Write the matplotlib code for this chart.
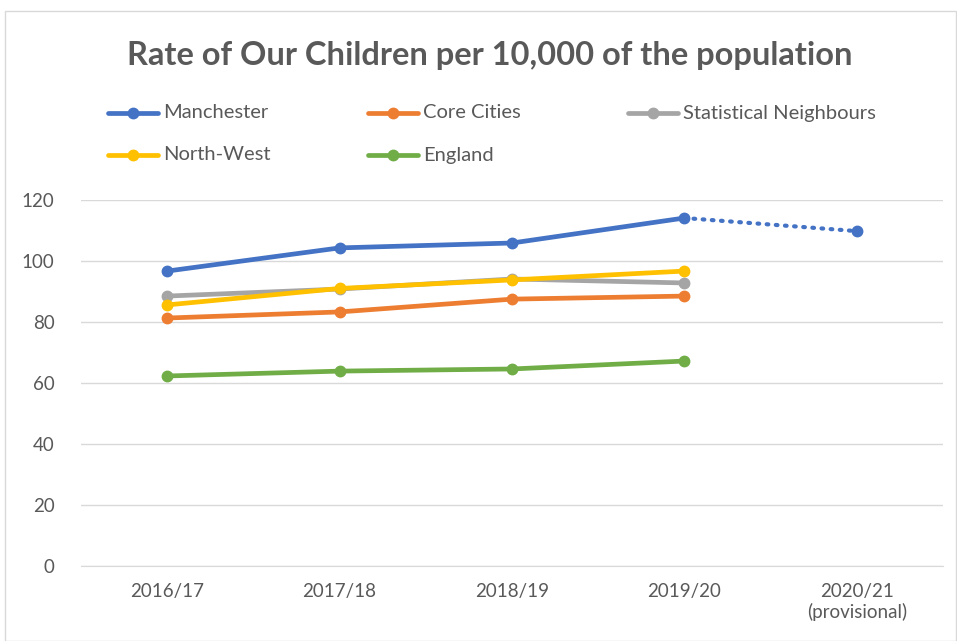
import matplotlib
matplotlib.use("Agg")
import matplotlib.pyplot as plt
from matplotlib.patches import Rectangle
from matplotlib.lines import Line2D

plt.rcParams['font.family'] = ['Lato', 'DejaVu Sans']

categories = ["2016/17", "2017/18", "2018/19", "2019/20", "2020/21\n(provisional)"]
manchester = [96.7, 104.3, 105.9, 114.1]
manchester_provisional = 109.8
core_cities = [81.3, 83.3, 87.5, 88.5]
stat_neighbours = [88.5, 90.8, 94.1, 92.8]
north_west = [85.6, 91.0, 93.8, 96.7]
england = [62.3, 63.9, 64.6, 67.2]

text_col = "#595959"
fig = plt.figure(figsize=(9.57, 6.41), dpi=100)
fig.patches.append(Rectangle((5/957, 0), 1 - 5/957 - 0.001, 1 - 11/641, transform=fig.transFigure,
                             fill=False, edgecolor="#d9d9d9", lw=1))
ax = fig.add_axes([81/957, 1 - 566/641, (943-81)/957, (566-200)/641])

x = list(range(len(categories)))
series = [
    ("Manchester", manchester, "#4472c4"),
    ("Core Cities", core_cities, "#ed7d31"),
    ("Statistical Neighbours", stat_neighbours, "#a5a5a5"),
    ("North-West", north_west, "#ffc000"),
    ("England", england, "#70ad47"),
]
for i in [4, 1, 2, 3, 0]:
    name, vals, col = series[i]
    ax.plot(x[:len(vals)], vals, color=col, lw=3.4, marker="o", ms=7.5, solid_capstyle="round", zorder=3)
ax.plot([x[3], x[4]], [manchester[-1], manchester_provisional], color="#4472c4", lw=3,
        ls=(0, (0.4, 1.8)), dash_capstyle="round", zorder=3)
ax.plot([x[4]], [manchester_provisional], color="#4472c4", marker="o", ms=7.5, zorder=3)

ax.set_xlim(-0.5, 4.5)
ax.set_ylim(0, 120)
ax.set_yticks(range(0, 121, 20))
ax.set_xticks(x)
ax.set_xticklabels(categories)
ax.grid(axis="y", color="#d9d9d9", lw=1)
ax.set_axisbelow(True)
for s in ["top", "right", "left"]:
    ax.spines[s].set_visible(False)
ax.spines["bottom"].set_color("#d9d9d9")
ax.tick_params(length=0, labelsize=13.5, colors=text_col, pad=12)
ax.tick_params(axis="y", pad=19)

fig.text(490/957, 1 - 55/641, "Rate of Our Children per 10,000 of the population",
         ha="center", va="center", fontsize=23.5, fontweight="bold", color=text_col)

# legend entries
legend_pos = [(108, 113), (368, 113), (628, 113), (108, 155), (368, 155)]
for (name, vals, col), (lx, ly) in zip(series, legend_pos):
    yf = 1 - ly/641
    fig.add_artist(Line2D([lx/957, (lx+50)/957], [yf, yf], color=col, lw=3.4,
                          solid_capstyle="round", transform=fig.transFigure))
    fig.add_artist(Line2D([(lx+25)/957], [yf], color=col, marker="o", ms=7.5, transform=fig.transFigure))
    fig.text((lx+55)/957, yf, name, ha="left", va="center", fontsize=14.5, color=text_col)

fig.savefig("out.png", dpi=100)
